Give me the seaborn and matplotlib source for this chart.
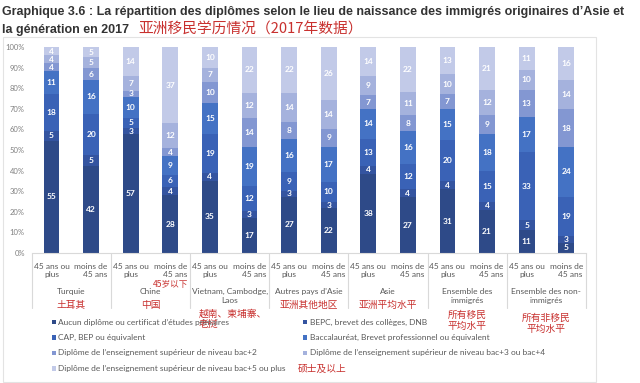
import numpy as np
import pandas as pd
import seaborn as sns
import matplotlib.pyplot as plt
from matplotlib.patches import Rectangle
from matplotlib.transforms import blended_transform_factory

# groups (origin) and age bands, two bars per group
groups = ['Turquie', 'Chine', 'Vietnam, Cambodge,\nLaos', "Autres pays d'Asie",
          'Asie', 'Ensemble des\nimmigrés', 'Ensemble des non-\nimmigrés']
groups_cn = ['土耳其', '中国', None, '亚洲其他地区', '亚洲平均水平',
             '所有移民\n平均水平', '所有非移民\n平均水平']
ages = ['45 ans ou\nplus', 'moins de\n45 ans']

levels = ["Aucun diplôme ou certificat d’études primaires",
          "BEPC, brevet des collèges, DNB",
          "CAP, BEP ou équivalent",
          "Baccalauréat, Brevet professionnel ou équivalent",
          "Diplôme de l’enseignement supérieur de niveau bac+2",
          "Diplôme de l’enseignement supérieur de niveau bac+3 ou bac+4",
          "Diplôme de l’enseignement supérieur de niveau bac+5 ou plus"]

# values (%) per bar, from bottom to top of the stack
aucun = [55, 42, 57, 28, 35, 17, 27, 22, 38, 27, 31, 21, 11, 5]
bepc = [5, 5, 3, 4, 4, 3, 3, 3, 4, 4, 4, 4, 5, 3]
cap = [18, 20, 5, 6, 19, 12, 9, 10, 13, 12, 20, 15, 33, 19]
bac = [11, 16, 10, 9, 15, 19, 16, 17, 14, 16, 15, 18, 17, 24]
bac2 = [4, 6, 3, 4, 10, 14, 8, 9, 7, 8, 7, 9, 13, 18]
bac34 = [4, 5, 7, 12, 7, 12, 14, 14, 9, 11, 10, 12, 10, 14]
bac5 = [4, 5, 14, 37, 10, 22, 22, 26, 14, 22, 13, 21, 11, 16]

colors = ['#2E4A88', '#3454A0', '#3A62B6', '#4472C4', '#8397D2', '#A5B2DD', '#C2CAE8']
red = '#C8302E'
grey = '#595959'

sns.set_theme(style='white')
plt.rcParams['font.family'] = ['Lato', 'DejaVu Sans']
CJK = ['Noto Sans CJK SC', 'DejaVu Sans']

bar_ids = [f'b{i}' for i in range(14)]
vals = np.array([aucun, bepc, cap, bac, bac2, bac34, bac5], dtype=float)
shares = vals / vals.sum(axis=0) * 100  # 100% stacked
tops = shares.cumsum(axis=0)

fig = plt.figure(figsize=(6.4, 3.83), dpi=100)
H = 383.0
ax = fig.add_axes([31.7 / 640, (H - 253) / H, (586 - 31.7) / 640, (253 - 47) / H])

# stack by overdrawing cumulative totals, top layer first
for k in range(len(levels) - 1, -1, -1):
    df = pd.DataFrame({'bar': bar_ids, 'top': tops[k]})
    sns.barplot(data=df, x='bar', y='top', order=bar_ids, color=colors[k],
                saturation=1, width=0.4, errorbar=None, linewidth=0, ax=ax)

# value labels
for k in range(len(levels)):
    for i in range(14):
        mid = tops[k, i] - shares[k, i] / 2
        ax.text(i, mid, f'{int(vals[k, i])}', ha='center', va='center',
                color='white', fontsize=6, fontweight='bold')

ax.set_xlim(-0.5, 13.5)
ax.set_ylim(0, 100)
ax.set_yticks(range(0, 101, 10))
ax.set_yticklabels([f'{v}%' for v in range(0, 101, 10)], fontsize=5.5, color='#808080')
ax.tick_params(axis='y', length=0, pad=5)
ax.set_xticks([])
ax.set_xlabel('')
ax.set_ylabel('')
for s in ['top', 'right', 'left']:
    ax.spines[s].set_visible(False)
ax.spines['bottom'].set_color('#D9D9D9')
ax.spines['bottom'].set_linewidth(0.8)

tr = blended_transform_factory(ax.transData, fig.transFigure)
fy = lambda y: (H - y) / H

# age labels under each bar
for i in range(14):
    lab = ages[i % 2]
    ax.text(i, fy(270.5), lab, transform=tr, ha='center', va='center',
            fontsize=6, color=grey, linespacing=1.25,
            multialignment='center' if i % 2 == 0 else 'right')

# group labels and separators
for g in range(7):
    xc = 2 * g + 0.5
    ax.text(xc, fy(288), groups[g], transform=tr, ha='center', va='top',
            fontsize=6, color=grey, linespacing=1.25)
for b in range(8):
    xb = 2 * b - 0.5
    ax.plot([xb, xb], [fy(253), fy(308)], transform=tr, color='#D9D9D9',
            lw=0.8, clip_on=False)

# red annotations (Chinese)
for g, txt in enumerate(groups_cn):
    if txt is None:
        continue
    y = 305 if '\n' not in txt else (320 if g == 5 else 323)
    ax.text(2 * g + 0.5, fy(y), txt, transform=tr, ha='center', va='center',
            fontsize=7, color=red, family=CJK, linespacing=1.15)
ax.text(3, fy(284), '45岁以下', transform=tr, ha='center', va='center',
        fontsize=6.2, color=red, family=CJK)
fig.text(199 / 640, fy(319), '越南、柬埔寨、\n老挝', ha='left', va='center',
         fontsize=7, color=red, family=CJK, linespacing=1.1)

# legend, two columns
rows_y = [322, 337.5, 353, 368.5]
for k, name in enumerate(levels):
    r, c = k // 2, k % 2
    xs = [52, 303][c]
    xt = [58.5, 310][c]
    fig.add_artist(Rectangle((xs / 640, fy(rows_y[r] + 2)), 4.2 / 640, 4.2 / H,
                             transform=fig.transFigure, color=colors[k], lw=0))
    fig.text(xt / 640, fy(rows_y[r]), name, ha='left', va='center',
             fontsize=6, color=grey)
fig.text(298 / 640, fy(369), '硕士及以上', ha='left', va='center',
         fontsize=7, color=red, family=CJK)

# outer frame of the chart area
fig.add_artist(Rectangle((3 / 640, fy(382)), (596 - 3) / 640, (382 - 37) / H,
                         transform=fig.transFigure, fill=False,
                         edgecolor='#E3E3E3', lw=0.8))

# title
fig.text(2 / 640, fy(12), "Graphique 3.6 : La répartition des diplômes selon le lieu de "
         "naissance des immigrés originaires d’Asie et", ha='left', va='center',
         fontsize=9, fontweight='bold', color='#333333', family=['Liberation Sans'])
fig.text(2 / 640, fy(30), "la génération en 2017", ha='left', va='center',
         fontsize=9, fontweight='bold', color='#333333', family=['Liberation Sans'])
fig.text(138 / 640, fy(29.5), "亚洲移民学历情况（2017年数据）", ha='left', va='center',
         fontsize=10.6, color=red, family=CJK)

fig.savefig('out.png', dpi=100)
